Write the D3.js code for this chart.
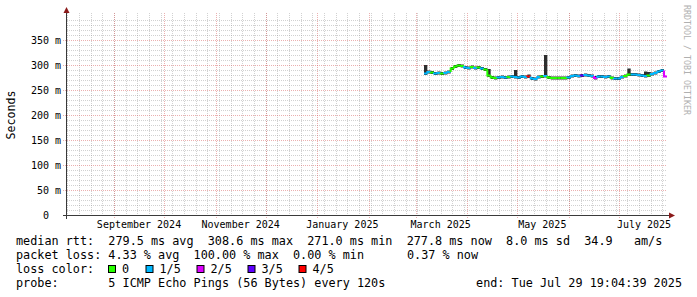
<!DOCTYPE html>
<html>
<head>
<meta charset="utf-8">
<script src="https://cdn.jsdelivr.net/npm/d3@7"></script>
<style>
  body { margin: 0; background: #fff; }
  svg text { font-family: "DejaVu Sans Mono", monospace; white-space: pre; }
</style>
</head>
<body>
<svg id="chart" width="697" height="297"></svg>
<script>
// 2-day samples of the median rtt (ms), starting 2025-03-06
var sampleStart = "2025-03-06";
var sampleDays = 2;
var median = [283,286,285,283,284,283,284,286,293,297,299,298,295,294,296,294,295,293,291,279,
  275,274,275,276,275,276,277,276,275,277,276,277,273,272,276,277,278,275,274,274,
  274,274,274,275,278,279,278,279,280,279,278,274,277,277,276,277,274,273,273,276,
  278,281,281,281,280,279,278,279,282,284,287,289,277];
var pingMax = [300,289,288,286,287,286,287,289,296,300,302,301,298,297,299,297,298,296,294,292,
  278,277,278,279,278,279,280,290,278,280,279,281,276,275,279,280,320,278,277,277,
  277,277,277,278,281,282,281,282,283,282,281,278,280,280,279,280,277,276,276,279,
  281,293,284,284,283,282,287,286,285,287,290,292,280];
var pingMin = [280,283,282,280,281,280,281,283,290,294,296,295,292,291,293,291,292,290,288,276,
  272,271,272,273,272,273,274,273,272,274,273,274,270,269,273,274,275,272,271,271,
  271,271,271,272,275,276,275,276,277,276,275,271,274,274,273,274,271,270,270,273,
  275,278,278,278,277,276,275,276,279,281,284,286,274];
// lost pings out of 5
var loss = [1,1,0,1,1,0,1,1,0,0,0,0,1,1,0,1,0,1,0,0,
  0,0,1,1,1,0,1,1,1,1,1,4,1,1,1,0,1,0,0,0,
  0,0,0,1,1,1,1,3,1,1,1,2,1,1,1,1,0,1,1,1,
  0,0,1,1,1,1,1,0,1,1,1,1,2];

var lossLabels = ["0", "1/5", "2/5", "3/5", "4/5"];
var lossColors = ["#26ff00", "#00b8ff", "#dd00ff", "#5e00ff", "#ff0000"];
var yTicks = [0, 50, 100, 150, 200, 250, 300, 350];

var endTime = new Date(Date.UTC(2025, 6, 29, 19, 4, 39));
var startTime = new Date(endTime.getTime() - 360 * 864e5);

var legendRows = [
  [[16, "median rtt:  279.5 ms avg  308.6 ms max  271.0 ms min  277.8 ms now  8.0 ms sd  34.9   am/s"]],
  [[16, "packet loss: 4.33 % avg  100.00 % max  0.00 % min"], [407, "0.37 % now"]],
  [[16, "loss color:"]],
  [[16, "probe:       5 ICMP Echo Pings (56 Bytes) every 120s"]]
];
var endStamp = "end: Tue Jul 29 19:04:39 2025";
var swatchX = [108, 145.5, 196.5, 247.5, 298.5];

var plot = { left: 67, right: 667, top: 15, bottom: 215 };

var svg = d3.select("#chart");

var x = d3.scaleUtc()
  .domain([startTime, endTime])
  .range([plot.left, plot.right]);
var y = d3.scaleLinear()
  .domain([0, 400])
  .range([plot.bottom, plot.top]);

var data = median.map(function(v, i) {
  var d = d3.utcDay.offset(new Date(sampleStart + "T00:00:00Z"), i * sampleDays);
  return { date: d, next: d3.utcDay.offset(d, sampleDays), med: v, hi: pingMax[i], lo: pingMin[i], loss: loss[i] };
});
data[data.length - 1].next = endTime;

var grid = svg.append("g").attr("shape-rendering", "crispEdges");

// minor horizontal grid (10 ms)
grid.selectAll(".hmin")
  .data(d3.range(10, 400, 10).filter(function(v) { return v % 50 !== 0; }))
  .enter().append("line")
  .attr("x1", plot.left).attr("x2", plot.right)
  .attr("y1", function(d) { return y(d) + 0.5; }).attr("y2", function(d) { return y(d) + 0.5; })
  .attr("stroke", "rgba(140,140,140,0.4)").attr("stroke-dasharray", "1,1");

// minor vertical grid (weeks)
grid.selectAll(".vmin")
  .data(d3.utcSunday.range(startTime, endTime))
  .enter().append("line")
  .attr("x1", function(d) { return Math.round(x(d)) + 0.5; }).attr("x2", function(d) { return Math.round(x(d)) + 0.5; })
  .attr("y1", plot.top - 2).attr("y2", plot.bottom)
  .attr("stroke", "rgba(140,140,140,0.4)").attr("stroke-dasharray", "1,1");

// major grid
grid.selectAll(".hmaj")
  .data(yTicks.filter(function(v) { return v > 0; }))
  .enter().append("line")
  .attr("x1", plot.left - 4).attr("x2", plot.right)
  .attr("y1", function(d) { return y(d) + 0.5; }).attr("y2", function(d) { return y(d) + 0.5; })
  .attr("stroke", "rgba(210,80,80,0.45)").attr("stroke-dasharray", "1,1");
grid.selectAll(".vmaj")
  .data(d3.utcMonth.range(startTime, endTime))
  .enter().append("line")
  .attr("x1", function(d) { return Math.round(x(d)) + 0.5; }).attr("x2", function(d) { return Math.round(x(d)) + 0.5; })
  .attr("y1", plot.top - 2).attr("y2", plot.bottom + 3)
  .attr("stroke", "rgba(210,80,80,0.45)").attr("stroke-dasharray", "1,1");

// smoke
svg.append("path")
  .datum(data)
  .attr("fill", "#2e2e2e")
  .attr("d", d3.area()
    .curve(d3.curveStepAfter)
    .x(function(d) { return x(d.date); })
    .y0(function(d) { return y(d.lo); })
    .y1(function(d) { return y(d.hi); }));

// median, coloured by loss
svg.append("g").selectAll("path")
  .data(data)
  .enter().append("path")
  .attr("fill", "none")
  .attr("stroke-width", 2)
  .attr("stroke", function(d) { return lossColors[d.loss]; })
  .attr("d", function(d, i) {
    var prev = i > 0 ? data[i - 1].med : d.med;
    return "M" + x(d.date) + "," + y(prev) + "V" + y(d.med) + "H" + x(d.next);
  });

// axes
var axisColor = "#3a3a3a";
svg.append("line")
  .attr("x1", plot.left - 0.5).attr("x2", plot.left - 0.5)
  .attr("y1", plot.bottom + 4).attr("y2", 10)
  .attr("stroke", axisColor);
svg.append("line")
  .attr("x1", plot.left - 4).attr("x2", plot.right + 3)
  .attr("y1", plot.bottom + 0.5).attr("y2", plot.bottom + 0.5)
  .attr("stroke", axisColor);
svg.append("path")
  .attr("fill", "#8b1a1a")
  .attr("d", "M" + (plot.left - 3.5) + ",13 L" + (plot.left + 2.5) + ",13 L" + (plot.left - 0.5) + ",7 Z");
svg.append("path")
  .attr("fill", "#8b1a1a")
  .attr("d", "M" + (plot.right + 2) + "," + (plot.bottom - 2.5) + " L" + (plot.right + 2) + "," + (plot.bottom + 3.5) + " L" + (plot.right + 8) + "," + (plot.bottom + 0.5) + " Z");

// y labels
svg.append("g").selectAll("text")
  .data(yTicks)
  .enter().append("text")
  .attr("x", 61)
  .attr("y", function(d) { return y(d) + 4; })
  .attr("text-anchor", "end")
  .attr("font-size", "10px")
  .text(function(d) { return d === 0 ? "0  " : d + " m"; });

// x labels, every 2 months, centered half a month in
svg.append("g").selectAll("text")
  .data(d3.utcMonth.every(2).range(startTime, endTime))
  .enter().append("text")
  .attr("x", function(d) { return x(d3.utcDay.offset(d, 15)); })
  .attr("y", 228)
  .attr("text-anchor", "middle")
  .attr("font-size", "10px")
  .text(function(d) { return d3.utcFormat("%B %Y")(d); });

svg.append("text")
  .attr("transform", "translate(15,115) rotate(-90)")
  .attr("text-anchor", "middle")
  .attr("font-size", "11.6px")
  .text("Seconds");

svg.append("text")
  .attr("transform", "translate(684,5) rotate(90)")
  .attr("font-size", "8.3px")
  .attr("fill", "#b0b0b0")
  .text("RRDTOOL / TOBI OETIKER");

// legend
var legend = svg.append("g").attr("font-size", "11.8px");
legendRows.forEach(function(row, r) {
  legend.selectAll(".row" + r)
    .data(row)
    .enter().append("text")
    .attr("x", function(d) { return d[0]; })
    .attr("y", 245 + r * 14)
    .text(function(d) { return d[1]; });
});
legend.append("text")
  .attr("x", 682)
  .attr("y", 287)
  .attr("text-anchor", "end")
  .text(endStamp);
var sw = legend.selectAll(".sw")
  .data(lossLabels)
  .enter().append("g");
sw.append("rect")
  .attr("x", function(d, i) { return swatchX[i] + 0.5; })
  .attr("y", 265.5)
  .attr("width", 7).attr("height", 7)
  .attr("fill", function(d, i) { return lossColors[i]; })
  .attr("stroke", "#000");
sw.append("text")
  .attr("x", function(d, i) { return swatchX[i] + 14; })
  .attr("y", 273)
  .text(function(d) { return d; });
</script>
</body>
</html>
